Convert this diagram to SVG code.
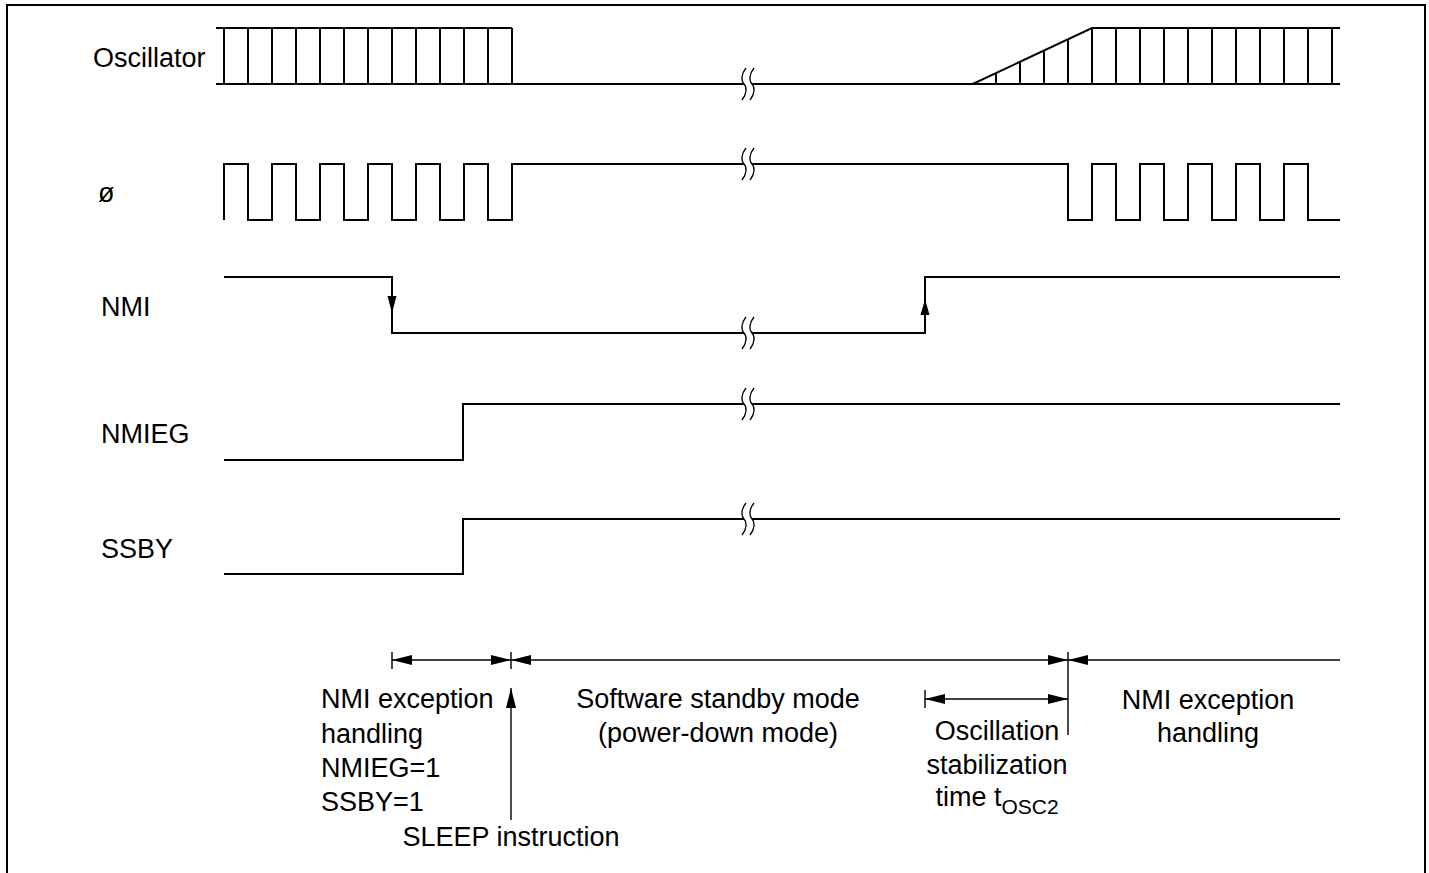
<svg xmlns="http://www.w3.org/2000/svg" width="1429" height="873" viewBox="0 0 1429 873">
<style>
.t{font-family:"Liberation Sans",Arial,sans-serif;font-size:27px;fill:#000}
.m{text-anchor:middle}
.sig{fill:none;stroke:#000;stroke-width:2}
.brk{fill:none;stroke:#000;stroke-width:1.3}
.dim{fill:none;stroke:#000;stroke-width:1.4}
.ah{fill:#000;stroke:none}
</style>
<defs>
<marker id="arr" markerUnits="userSpaceOnUse" markerWidth="20" markerHeight="10" viewBox="0 0 20 10" refX="20" refY="5" orient="auto-start-reverse">
<path d="M0,0 L20,5 L0,10 z" fill="#000"/>
</marker>
<path id="bk" d="M-2,-16 C-7,-10 -7,-3 -4,0 C-1,3 -1,10 -6,16 M6,-16 C1,-10 1,-3 4,0 C7,3 7,10 2,16"/>
</defs>
<rect x="7" y="5" width="1418" height="900" fill="none" stroke="#000" stroke-width="2"/>

<g id="oscillator">
<text class="t" x="93" y="67">Oscillator</text>
<path class="sig" d="M216,28 H512 M216,84 H744 M752,84 H1340 M224,28 V84 M248,28 V84 M272,28 V84 M296,28 V84 M320,28 V84 M344,28 V84 M368,28 V84 M392,28 V84 M416,28 V84 M440,28 V84 M464,28 V84 M488,28 V84 M512,28 V84"/>
<path class="sig" d="M972.7,84 L1092,28 H1340 M996,73.1 V84 M1020,61.8 V84 M1044,50.5 V84 M1068,39.3 V84 M1092,28 V84 M1116,28 V84 M1140,28 V84 M1164,28 V84 M1188,28 V84 M1212,28 V84 M1236,28 V84 M1260,28 V84 M1284,28 V84 M1308,28 V84 M1332,28 V84"/>
<use href="#bk" class="brk" x="748" y="84"/>
</g>

<g id="phi">
<text class="t" x="98" y="202">ø</text>
<path class="sig" d="M224,220 V164 H248 V220 H272 V164 H296 V220 H320 V164 H344 V220 H368 V164 H392 V220 H416 V164 H440 V220 H464 V164 H488 V220 H512 V164 H744 M752,164 H1068 V220 H1092 V164 H1116 V220 H1140 V164 H1164 V220 H1188 V164 H1212 V220 H1236 V164 H1260 V220 H1284 V164 H1308 V220 H1340"/>
<use href="#bk" class="brk" x="748" y="164"/>
</g>

<g id="nmi">
<text class="t" x="101" y="316">NMI</text>
<path class="sig" d="M224,277 H392 V333 H744 M752,333 H925 V277 H1340"/>
<polygon class="ah" points="387.5,296 396.5,296 392,313"/>
<polygon class="ah" points="920.5,315 929.5,315 925,299"/>
<use href="#bk" class="brk" x="748" y="333"/>
</g>

<g id="nmieg">
<text class="t" x="101" y="443">NMIEG</text>
<path class="sig" d="M224,460 H463 V404 H744 M752,404 H1340"/>
<use href="#bk" class="brk" x="748" y="404"/>
</g>

<g id="ssby">
<text class="t" x="101" y="558">SSBY</text>
<path class="sig" d="M224,574 H463 V519 H744 M752,519 H1340"/>
<use href="#bk" class="brk" x="748" y="519"/>
</g>

<g id="connectors">
<path class="dim" d="M392,652 V669 M511,652 V669 M1068,652 V735 M925,690 V708"/>
<path class="dim" d="M392,660 H511" marker-start="url(#arr)" marker-end="url(#arr)"/>
<path class="dim" d="M511,660 H1068" marker-start="url(#arr)" marker-end="url(#arr)"/>
<path class="dim" d="M1340,660 H1068" marker-end="url(#arr)"/>
<path class="dim" d="M925,699 H1068" marker-start="url(#arr)" marker-end="url(#arr)"/>
<path class="dim" d="M511,820 V688" marker-end="url(#arr)"/>
</g>

<g id="label-nmi-handling">
<text class="t" x="321" y="708">NMI exception</text>
<text class="t" x="321" y="743">handling</text>
<text class="t" x="321" y="777">NMIEG=1</text>
<text class="t" x="321" y="811">SSBY=1</text>
</g>
<g id="label-sleep">
<text class="t m" x="511" y="846">SLEEP instruction</text>
</g>
<g id="label-standby">
<text class="t m" x="718" y="708">Software standby mode</text>
<text class="t m" x="718" y="742">(power-down mode)</text>
</g>
<g id="label-osc">
<text class="t m" x="997" y="740">Oscillation</text>
<text class="t m" x="997" y="774">stabilization</text>
<text class="t m" x="997" y="806">time t<tspan font-size="21" dy="8">OSC2</tspan></text>
</g>
<g id="label-nmi-handling-2">
<text class="t m" x="1208" y="709">NMI exception</text>
<text class="t m" x="1208" y="742">handling</text>
</g>
</svg>
